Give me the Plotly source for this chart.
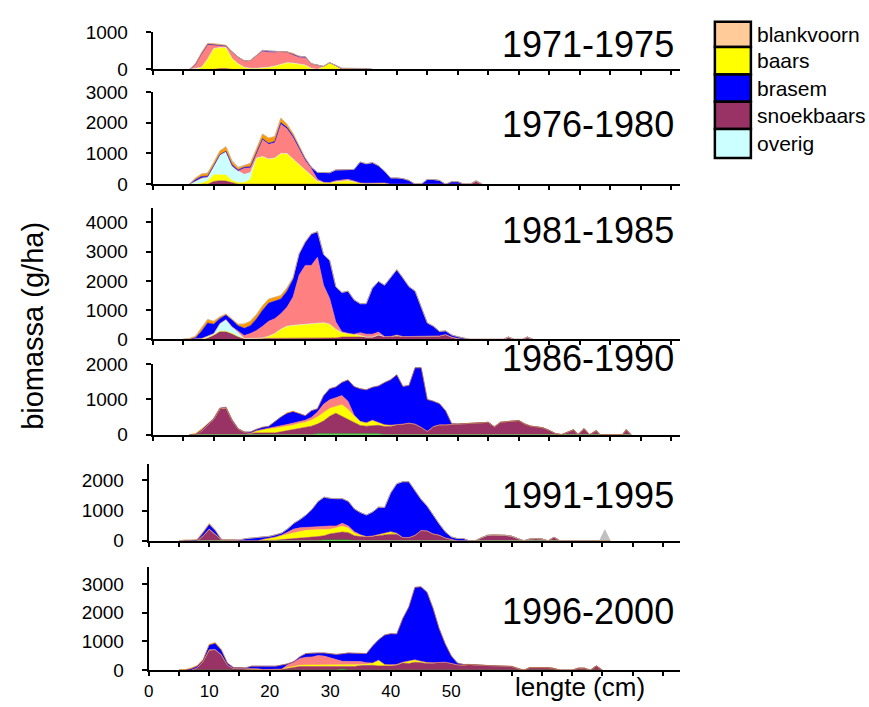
import plotly.graph_objects as go

W, H = 869, 707

# ---------------- data (biomassa g/ha per lengteklasse cm) ----------------
P1_X = list(range(6, 37))
P1_SNOEKBAARS = [0,0,0,0,0,25,25,0,0,0,0,0,0,0,0,0,0,0,0,0,0,0,0,0,0,0,0,0,0,0,0]
P1_BAARS = [0,0,60,280,560,560,560,290,150,60,30,30,40,60,90,140,180,170,150,115,30,0,80,180,90,0,0,0,0,0,0]
P1_OVERIG = [0,20,0,0,0,0,0,0,0,0,0,0,0,0,0,0,0,0,0,0,0,0,0,0,0,0,0,0,0,0,0]
P1_BLANKVOORN = [0,115,360,390,100,55,45,180,180,170,210,340,440,400,360,330,290,230,170,195,120,115,0,0,20,0,0,0,0,0,0]
P1_BRASEM = [0,0,0,0,0,0,0,0,0,0,0,0,30,30,30,0,0,0,30,30,0,0,0,0,0,25,25,25,25,25,0]
P1_ORANJE = [0,15,30,30,30,30,20,0,0,0,0,0,0,0,0,0,0,30,0,0,0,0,0,0,0,0,0,0,0,0,0]
P1_GRIJS = [0,0,0,0,0,0,0,0,0,0,0,0,0,0,0,0,0,0,0,0,0,0,0,0,0,15,15,0,0,0,0]

P2_X = list(range(6, 55))
P2_SNOEKBAARS = [0,0,0,0,90,110,100,40] + [0]*39 + [100,0]
P2_BAARS = [0,0,30,100,220,200,200,80,50,50,150,850,900,820,850,1000,1000,820,640,470,270,100,60,50,80,100,120,80,40,30,30,50,40] + [0]*16
P2_OVERIG = [0,100,170,130,290,650,770,470,380,270,230] + [0]*38
P2_BLANKVOORN = [0]*9 + [200,150,170,550,480,500,950,800,700,500,300,230,60,0,0,30,40,40,20] + [0]*21
P2_BRASEM = [0,40,50,30,0,0,0,40,30,30,30,30,30,30,40,50,50,50,50,50,50,220,320,320,350,320,310,380,680,630,670,550,380,200,200,180,120,0,0,150,150,120,0,80,80,0,0,0,0]
P2_ORANJE = [0,60,80,100,100,120,150,110,60,50,120,100,150,170,160,150,100,80,60,30] + [0]*29
P2_GRIJS = [0]*7 + [30,40,20] + [0]*39

P3_X = list(range(5, 53))
P3_SNOEKBAARS = [0,0,0,0,60,150,280,280,200,100,30,30,50,50,50,50,50,50,50,50,50,50,50,50,50,50,80,80,80,80,80,80,150,100,100,100,100,100,100,100,100,100,120,170,80,30,0,0]
P3_SNOEKBAARS_STAART_X = [57.5, 58.3, 59.2, 60.6, 61.4, 62.3]
P3_SNOEKBAARS_STAART = [0, 80, 0, 0, 80, 0]
P3_BAARS = [0]*14 + [60,150,300,400,430,450,480,500,520,520,470,300,150,130,100,50,0,0,0,0,0,50] + [0]*12
P3_OVERIG = [0,0,20,30,50,50,260,400,230,120] + [0]*38
P3_BLANKVOORN = [0]*9 + [50,100,170,250,400,510,510,530,650,970,1700,2000,1980,2240,1280,880,250,30,0,0,100,100,100,100] + [0]*15
P3_BRASEM = [0,0,30,250,450,320,170,150,230,200,250,270,400,550,620,600,500,550,600,720,790,1070,870,1050,1300,1200,1340,1440,1170,990,1040,1570,1730,1750,2000,2230,2000,1700,1550,1000,460,350,150,120,70,60,40,0]
P3_ORANJE = [0,30,60,120,120,100,60,40,40,50,150,150,150,150,140,140,120,100,50] + [0]*29
P3_GRIJS = [0]*17 + [20,30,30,30,30] + [0]*26

P4_X = list(range(6, 51))
P4_GROEN = [0]*21 + [25]*11 + [0]*13
P4_SNOEKBAARS = [0,0,100,260,420,720,750,400,160,70,40,50,50,50,50,80,110,140,180,200,240,275,365,495,585,495,405,305,235,215,225,240,230,230,280,300,330,300,210,95,230,280,280,280,300]
P4_SNOEKBAARS_STAART_X = [51,52,53,54,55,56,57,58,59,60,61,62,63,64,65,66,67,68,69,69.7,70.7,71.6,72.7,73.3,77,77.6,78.4]
P4_SNOEKBAARS_STAART = [310,320,320,330,350,220,350,370,380,400,300,240,220,190,120,30,0,60,140,0,170,0,115,0,0,140,0]
P4_BAARS = [0,0,0,20,20,20,20,0,0,0,0,60,100,140,130,125,125,130,140,150,170,200,235,220,190,330,290,200,120,95,160,80,50,40] + [0]*11
P4_BLANKVOORN = [0]*14 + [40,50,50,50,50,60,80,140,240,250,250,260,230,30] + [0]*17
P4_BRASEM = [0,0,20,10,20,10,10,25,10,5,35,40,60,45,160,245,315,330,230,130,190,95,240,315,305,375,605,805,925,940,935,1040,1200,1290,1420,1070,1070,1600,1690,905,720,600,400,30,0]
P4_ORANJE = [0,30,40,10] + [0]*12 + [20,20] + [0]*27

P5_X = list(range(5, 54))
P5_GROEN = [0]*24 + [30]*5 + [0]*20
P5_SNOEKBAARS = [0,0,0,0,150,370,200,40,25,25,0,0,0,0,0,0,20,40,55,70,90,110,120,140,140,200,230,260,240,170,140,140,150,170,200,220,220,110,110,180,340,330,230,190,100,40,0,0,0]
P5_SNOEKBAARS_STAART_X = [54,55,56,57,58,59,60,61,62,63,64,65,66,67,68]
P5_SNOEKBAARS_STAART = [0,100,180,190,190,180,150,80,0,60,75,60,0,120,0]
P5_BAARS = [0,0,0,0,20,20,20] + [0]*7 + [55,90,110,125,165,190,230,235,240,220,190,150,170,190,150,80,40,0,10,30,60,80,30] + [0]*12
P5_BLANKVOORN = [0]*17 + [25,60,130,110,100,100,110,130,110,60,100,70,50,20] + [0]*18
P5_BRASEM = [0,0,0,20,90,150,110,10,5,0,30,70,90,100,65,60,70,70,120,190,270,405,580,830,950,910,900,810,810,750,730,710,790,910,840,1280,1630,1840,1840,1470,1030,820,620,370,200,90,75,75,0]
P5_ORANJE = [0,30,30,30,40,30,30] + [0]*42
P5_GRIJS_X = [74.5, 75.4, 76.3]
P5_GRIJS = [0, 370, 0]

P6_X = list(range(5, 54))
P6_GROEN = [0]*27 + [30] + [0]*21
P6_SNOEKBAARS = [0,0,0,80,300,690,700,520,180,60,40,30,20,20,20,20,20,40,70,100,130,130,130,130,130,130,130,100,130,130,160,170,170,150,140,150,170,250,230,280,260,230,240,260,280,240,190,180,200]
P6_SNOEKBAARS_STAART_X = [54,55,56,57,58,59,60,61,62,63,64,65,66,67,68,70,71,72,73,74,75]
P6_SNOEKBAARS_STAART = [180,170,160,150,150,140,130,60,0,90,90,90,90,60,0,0,70,70,0,150,0]
P6_BAARS = [0,0,0,0,20,20,20,20,0,0,20,30,30,30,0,0,0,0,20,30,40,50,50,60,60,60,60,50,50,40,30,40,80,200,60,40,30,30,80,80,50,40,20] + [0]*6
P6_BLANKVOORN = [0]*18 + [100,150,240,270,280,320,300,250,180,130,130,120,110,50] + [0]*17
P6_BRASEM = [0,0,40,50,30,160,210,150,60,30,30,20,90,90,120,120,120,140,30,20,60,130,140,90,110,140,180,260,290,300,280,320,590,710,1020,1080,1060,1520,1890,2520,2590,2440,1890,1190,640,260,60,20,0]
P6_ORANJE = [0,20,40,30,30,30,30,30,20] + [0]*40

PERIODS = ["1971-1975", "1976-1980", "1981-1985", "1986-1990", "1991-1995", "1996-2000"]
Y_TICKS = [[0, 1000], [0, 1000, 2000, 3000], [0, 1000, 2000, 3000, 4000],
           [0, 1000, 2000], [0, 1000, 2000], [0, 1000, 2000, 3000]]
X_TICK_LABELS = ["0", "10", "20", "30", "40", "50"]
LEGEND_NAMES = ["blankvoorn", "baars", "brasem", "snoekbaars", "overig"]

# ---------------- styling ----------------
COLORS = {"groen": "#00C000", "snoekbaars": "#993366", "baars": "#FFFF00",
          "overig": "#CCFFFF", "blankvoorn": "#FF8080", "brasem": "#0000FF",
          "oranje": "#FF9900", "grijs": "#C0C0C0"}
LEGEND_COLORS = ["#FFCC99", "#FFFF00", "#0000FF", "#993366", "#CCFFFF"]

# panel geometry in target-picture pixels: (x_left, y_top, y_bottom, y_max, x_max)
GEOM = [(150, 30.5, 68, 1000, 86.4),
        (150, 90.7, 183.3, 3000, 86.4),
        (150, 207, 339.3, 4500, 86.4),
        (150, 364.3, 435, 2000, 86.4),
        (146, 464, 541.7, 2550, 87.8),
        (146, 567.7, 671.7, 3600, 87.8)]
X_RIGHT = 677
TITLE_Y = [43, 123, 230, 358, 496, 613]

# calibration of the photographed page (measured): picture = 0.975*page + 8.3 vertically,
# picture = 0.994*page + 2.3 horizontally
def px(x):
    return ((x - 2.3) / 0.994) / W


def py(y):
    return 1 - ((y - 8.3) / 0.975) / H


panels = [
    [("snoekbaars", P1_X, P1_SNOEKBAARS), ("baars", P1_X, P1_BAARS), ("overig", P1_X, P1_OVERIG),
     ("blankvoorn", P1_X, P1_BLANKVOORN), ("brasem", P1_X, P1_BRASEM), ("oranje", P1_X, P1_ORANJE),
     ("grijs", P1_X, P1_GRIJS)],
    [("snoekbaars", P2_X, P2_SNOEKBAARS), ("baars", P2_X, P2_BAARS), ("overig", P2_X, P2_OVERIG),
     ("blankvoorn", P2_X, P2_BLANKVOORN), ("brasem", P2_X, P2_BRASEM), ("oranje", P2_X, P2_ORANJE),
     ("grijs", P2_X, P2_GRIJS)],
    [("snoekbaars", P3_X + P3_SNOEKBAARS_STAART_X, P3_SNOEKBAARS + P3_SNOEKBAARS_STAART),
     ("baars", P3_X, P3_BAARS), ("overig", P3_X, P3_OVERIG),
     ("blankvoorn", P3_X, P3_BLANKVOORN), ("brasem", P3_X, P3_BRASEM), ("oranje", P3_X, P3_ORANJE),
     ("grijs", P3_X, P3_GRIJS)],
    [("groen", P4_X, P4_GROEN),
     ("snoekbaars", P4_X + P4_SNOEKBAARS_STAART_X, P4_SNOEKBAARS + P4_SNOEKBAARS_STAART),
     ("baars", P4_X, P4_BAARS), ("blankvoorn", P4_X, P4_BLANKVOORN), ("brasem", P4_X, P4_BRASEM),
     ("oranje", P4_X, P4_ORANJE)],
    [("groen", P5_X, P5_GROEN),
     ("snoekbaars", P5_X + P5_SNOEKBAARS_STAART_X, P5_SNOEKBAARS + P5_SNOEKBAARS_STAART),
     ("baars", P5_X, P5_BAARS), ("blankvoorn", P5_X, P5_BLANKVOORN), ("brasem", P5_X, P5_BRASEM),
     ("oranje", P5_X, P5_ORANJE), ("grijs", P5_GRIJS_X, P5_GRIJS)],
    [("groen", P6_X, P6_GROEN),
     ("snoekbaars", P6_X + P6_SNOEKBAARS_STAART_X, P6_SNOEKBAARS + P6_SNOEKBAARS_STAART),
     ("baars", P6_X, P6_BAARS), ("blankvoorn", P6_X, P6_BLANKVOORN), ("brasem", P6_X, P6_BRASEM),
     ("oranje", P6_X, P6_ORANJE)],
]

FONT = "Liberation Sans, Arial, sans-serif"
fig = go.Figure()
layout = dict(width=W, height=H, margin=dict(l=0, r=0, t=0, b=0),
              paper_bgcolor="white", plot_bgcolor="white", showlegend=False,
              font=dict(family=FONT, color="black"))
annotations = []
shapes = []

for i, series in enumerate(panels):
    n = i + 1
    xs = "x" if n == 1 else f"x{n}"
    ys = "y" if n == 1 else f"y{n}"
    for key, xv, yv in series:
        assert len(xv) == len(yv), (n, key, len(xv), len(yv))
        fig.add_trace(go.Scatter(
            x=xv, y=yv, xaxis=xs, yaxis=ys, mode="lines",
            stackgroup=f"p{n}", stackgaps="interpolate",
            line=dict(color=COLORS[key], width=0.6),
            fillcolor=COLORS[key], name=key, hoverinfo="skip"))
    xl, yt, yb, ymax, xmax = GEOM[i]
    last = (n == 6)
    xticks = list(range(0, 90, 5))
    xtext = [X_TICK_LABELS[v // 10] if (v % 10 == 0 and v <= 50) else "" for v in xticks]
    layout["xaxis" if n == 1 else f"xaxis{n}"] = dict(
        domain=[px(xl), px(X_RIGHT)], range=[0, xmax], anchor=ys,
        showline=True, linecolor="black", linewidth=2, ticks="outside",
        ticklen=4, tickwidth=1.5, tickcolor="black", showgrid=False, zeroline=False,
        tickvals=xticks, ticktext=xtext, showticklabels=last,
        tickfont=dict(size=17, family=FONT, color="black"), ticklabelstandoff=0)
    layout["yaxis" if n == 1 else f"yaxis{n}"] = dict(
        domain=[py(yb), py(yt)], range=[0, ymax], anchor=xs,
        showline=True, linecolor="black", linewidth=2, ticks="outside",
        ticklen=5, tickwidth=1.5, tickcolor="black", showgrid=False, zeroline=False,
        tickvals=Y_TICKS[i], ticktext=[str(v) for v in Y_TICKS[i]],
        tickfont=dict(size=19, family=FONT, color="black"), ticklabelstandoff=14)
    annotations.append(dict(text=PERIODS[i], x=px(673), y=py(TITLE_Y[i]),
                            xref="paper", yref="paper", xanchor="right", yanchor="middle",
                            showarrow=False, font=dict(size=36, family=FONT, color="black")))

annotations.append(dict(text="biomassa (g/ha)", x=px(30), y=py(326), xref="paper", yref="paper",
                        textangle=-90, showarrow=False, xanchor="center", yanchor="middle",
                        font=dict(size=29, family=FONT, color="black")))
annotations.append(dict(text="lengte (cm)", x=px(577), y=py(689), xref="paper", yref="paper",
                        showarrow=False, xanchor="center", yanchor="middle",
                        font=dict(size=26, family=FONT, color="black")))

# legend drawn as boxes + labels
bounds = [20, 45.5, 73, 100.5, 128, 157]
for k, name in enumerate(LEGEND_NAMES):
    shapes.append(dict(type="rect", xref="paper", yref="paper",
                       x0=px(712), x1=px(748), y0=py(bounds[k + 1]), y1=py(bounds[k]),
                       fillcolor=LEGEND_COLORS[k], line=dict(color="black", width=2.5), layer="above"))
    annotations.append(dict(text=name, x=px(752), y=py((bounds[k] + bounds[k + 1]) / 2),
                            xref="paper", yref="paper", xanchor="left", yanchor="middle",
                            showarrow=False, font=dict(size=21, family=FONT, color="black")))

layout["annotations"] = annotations
layout["shapes"] = shapes
fig.update_layout(**layout)
fig.write_html("out.html")
